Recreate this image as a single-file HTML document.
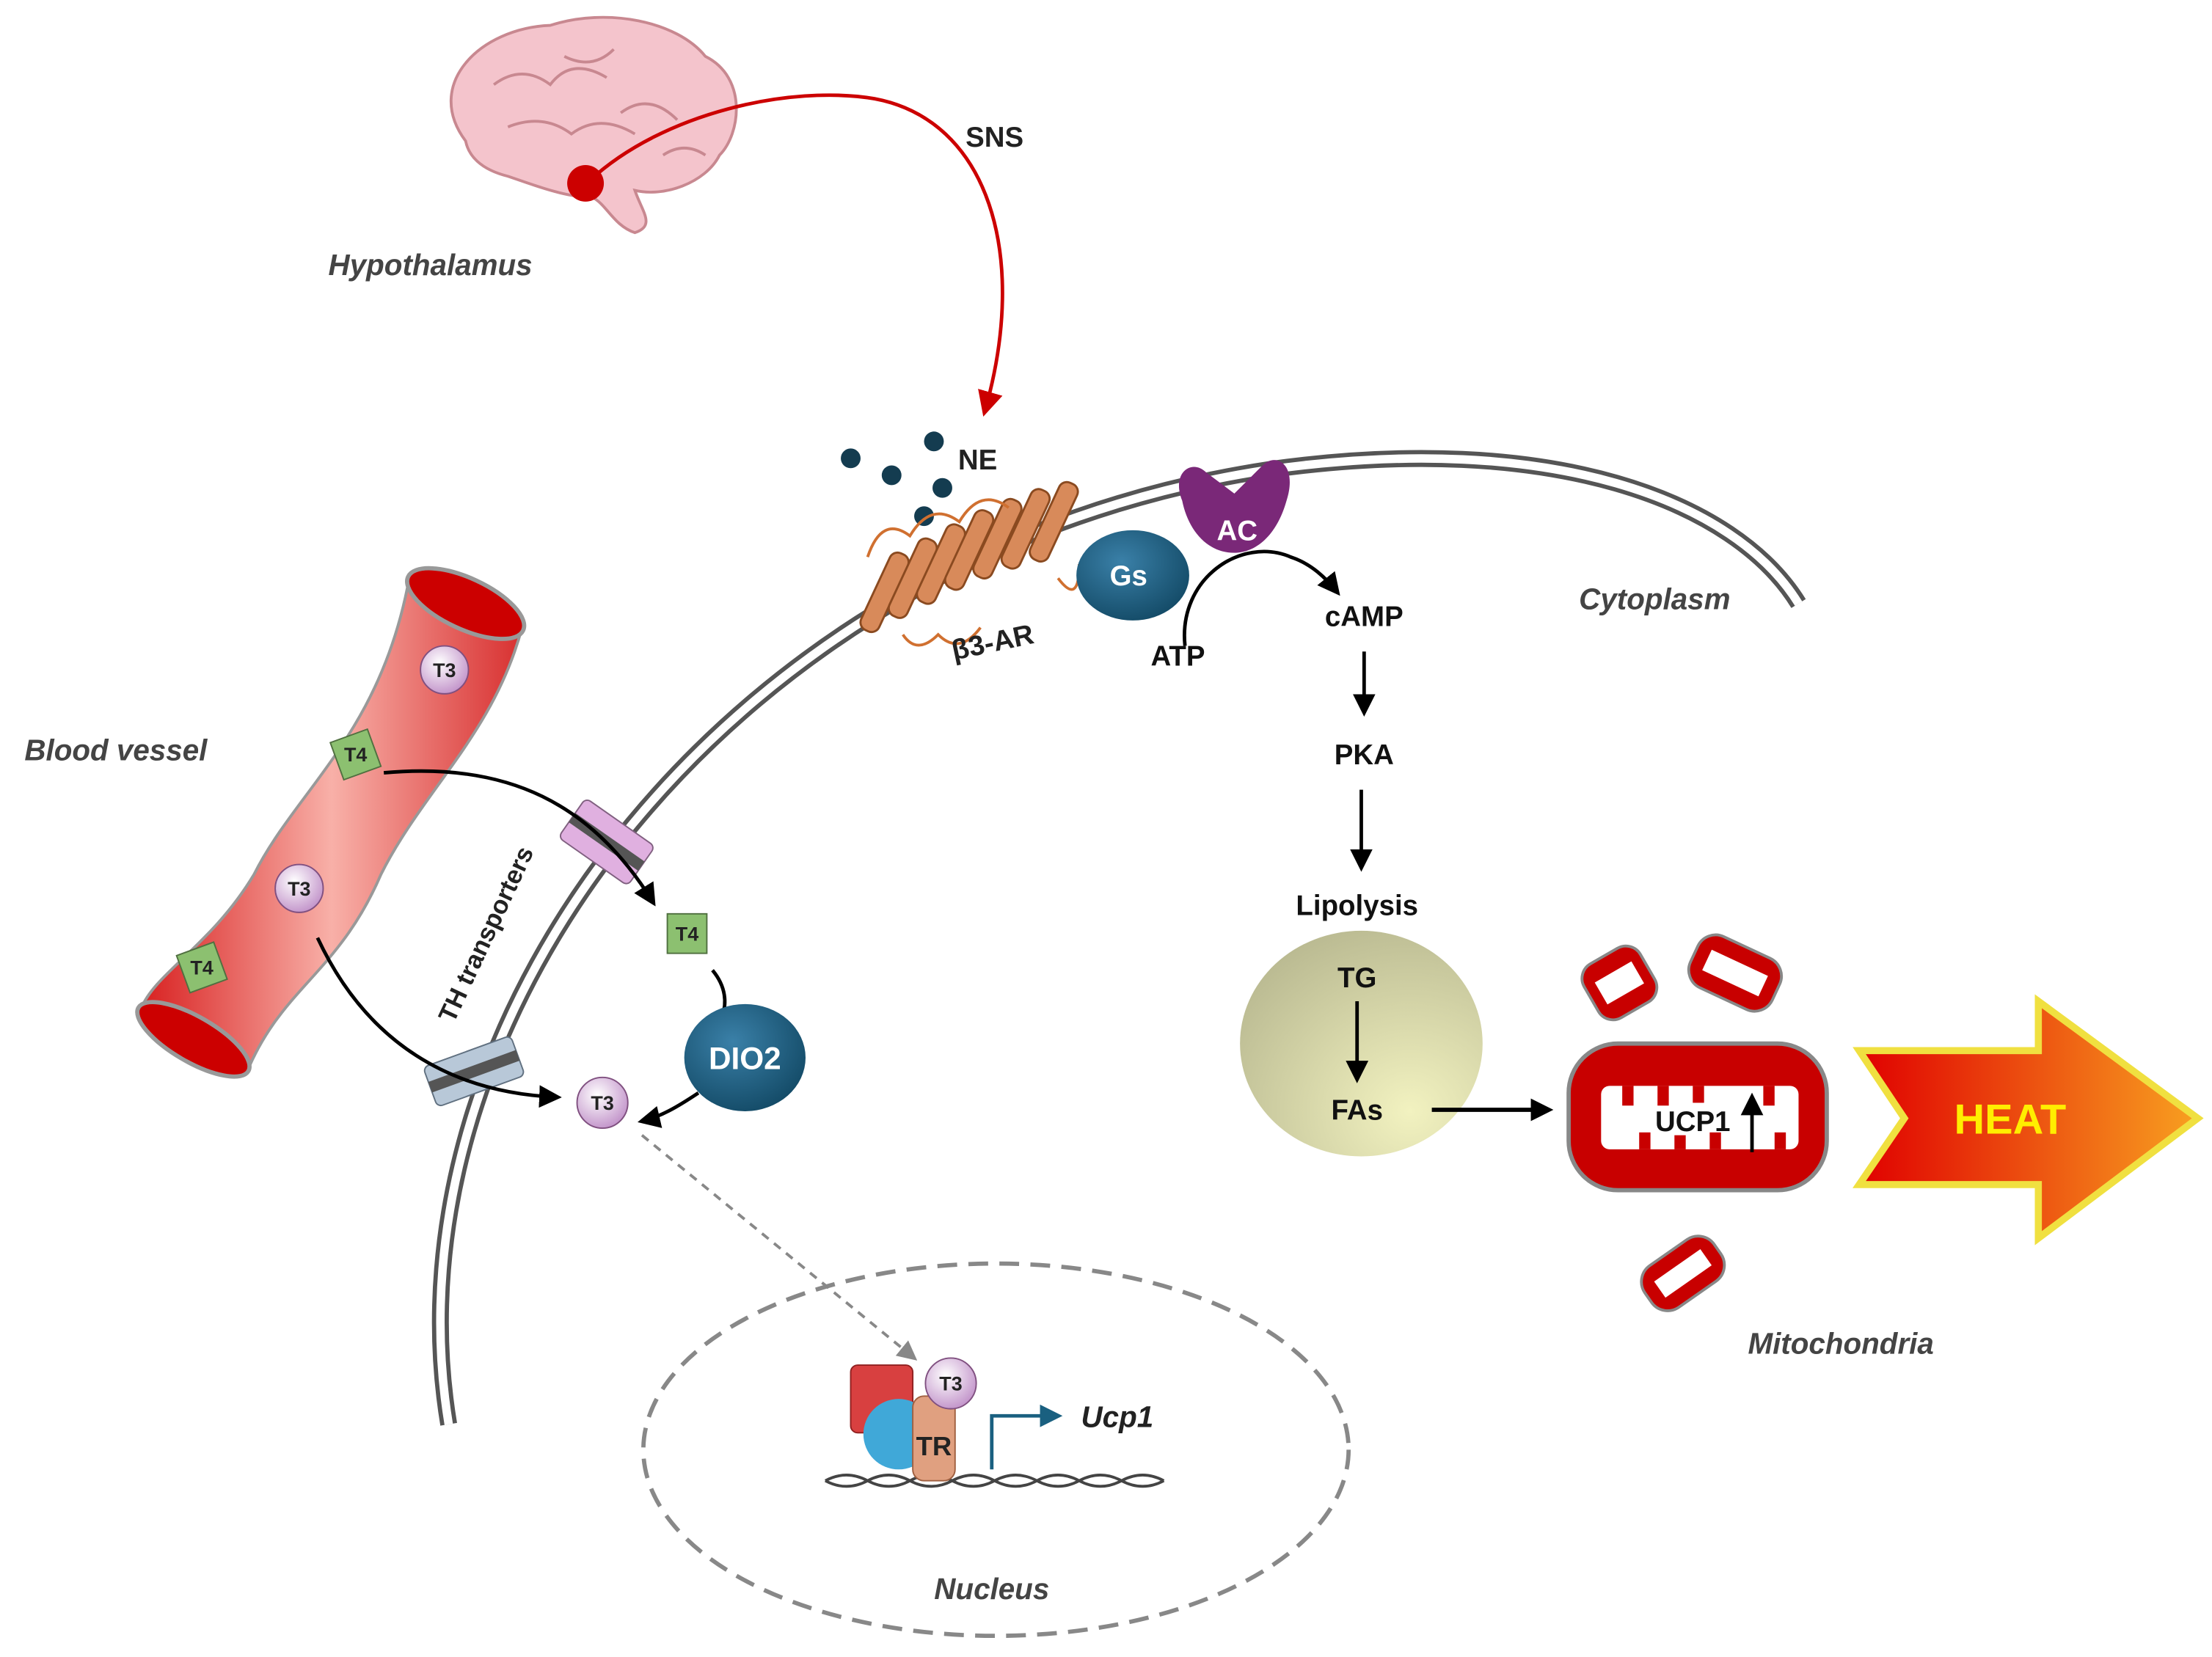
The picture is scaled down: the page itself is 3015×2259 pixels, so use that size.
<!DOCTYPE html>
<html><head><meta charset="utf-8"><style>
html,body{margin:0;padding:0;background:#fff;}
svg{display:block;}
text{font-family:"Liberation Sans",sans-serif;font-weight:bold;}
.it{font-style:italic;fill:#444;}
</style></head><body>
<svg width="3015" height="2259" viewBox="0 0 1568 1175" xmlns="http://www.w3.org/2000/svg">
<defs>
<marker id="abk" viewBox="0 0 10 10" refX="8" refY="5" markerWidth="16" markerHeight="16" orient="auto" markerUnits="userSpaceOnUse"><path d="M0,0 L10,5 L0,10 z" fill="#000"/></marker>
<marker id="ar" viewBox="0 0 10 10" refX="8" refY="5" markerWidth="18" markerHeight="18" orient="auto" markerUnits="userSpaceOnUse"><path d="M0,0 L10,5 L0,10 z" fill="#c00"/></marker>
<marker id="ag" viewBox="0 0 10 10" refX="8" refY="5" markerWidth="14" markerHeight="14" orient="auto" markerUnits="userSpaceOnUse"><path d="M0,0 L10,5 L0,10 z" fill="#888"/></marker>
<marker id="at" viewBox="0 0 10 10" refX="8" refY="5" markerWidth="16" markerHeight="16" orient="auto" markerUnits="userSpaceOnUse"><path d="M0,0 L10,5 L0,10 z" fill="#1a6080"/></marker>
<radialGradient id="tg" cx="0.7" cy="0.8" r="0.9"><stop offset="0" stop-color="#f2f2c0"/><stop offset="1" stop-color="#b8b890"/></radialGradient>
<linearGradient id="vs" x1="0" y1="0" x2="1" y2="0"><stop offset="0" stop-color="#d82020"/><stop offset="0.5" stop-color="#f8b0a8"/><stop offset="1" stop-color="#d83030"/></linearGradient>
<linearGradient id="ht" x1="0" y1="0" x2="1" y2="0"><stop offset="0" stop-color="#e00000"/><stop offset="1" stop-color="#f8a020"/></linearGradient>
<radialGradient id="bl" cx="0.4" cy="0.35" r="0.7"><stop offset="0" stop-color="#3a80a8"/><stop offset="1" stop-color="#134a66"/></radialGradient>
<radialGradient id="t3" cx="0.4" cy="0.35" r="0.7"><stop offset="0" stop-color="#fff"/><stop offset="1" stop-color="#c090c8"/></radialGradient>
</defs>

<!-- brain -->
<path d="M330,100 C300,60 340,20 390,18 C430,5 480,15 500,40 C530,55 525,95 510,110 C500,130 470,140 450,135 C455,150 465,160 450,165 C435,160 430,145 420,140 C400,140 375,130 360,125 C340,120 332,110 330,100 z" fill="#f4c4cc" stroke="#c88890" stroke-width="2"/>
<path d="M350,60 q20,-15 40,0 q15,-20 40,-5 M360,90 q25,-10 45,5 q20,-15 45,0 M400,40 q20,10 35,-5 M440,80 q20,-15 40,5 M470,110 q15,-10 30,0" fill="none" stroke="#c88890" stroke-width="2"/>
<circle cx="415" cy="130" r="13" fill="#c00"/>
<path d="M418,128 C470,80 560,60 620,70 C700,85 730,180 698,292" fill="none" stroke="#c00" stroke-width="2.5" marker-end="url(#ar)"/>
<text x="705" y="104" font-size="20" text-anchor="middle" fill="#222">SNS</text>
<text x="305" y="195" font-size="21" text-anchor="middle" class="it">Hypothalamus</text>

<!-- membrane -->
<path d="M318,1010 C270,720 520,390 900,333 C1100,305 1230,355 1275,428" fill="none" stroke="#555" stroke-width="12"/>
<path d="M318,1010 C270,720 520,390 900,333 C1100,305 1230,355 1275,428" fill="none" stroke="#fff" stroke-width="6"/>
<text x="1173" y="432" font-size="21" text-anchor="middle" class="it">Cytoplasm</text>

<!-- NE -->
<g fill="#143c50"><circle cx="603" cy="325" r="7"/><circle cx="632" cy="337" r="7"/><circle cx="662" cy="313" r="7"/><circle cx="668" cy="346" r="7"/><circle cx="655" cy="366" r="7"/></g>
<text x="693" y="333" font-size="20" text-anchor="middle" fill="#222">NE</text>

<!-- receptor -->
<g fill="#d88a5a" stroke="#8a4a20" stroke-width="1.5">
<rect x="620" y="390" width="14" height="60" rx="6" transform="rotate(25 627 420)"/>
<rect x="640" y="380" width="14" height="60" rx="6" transform="rotate(25 647 410)"/>
<rect x="660" y="370" width="14" height="60" rx="6" transform="rotate(25 667 400)"/>
<rect x="680" y="360" width="14" height="60" rx="6" transform="rotate(25 687 390)"/>
<rect x="700" y="352" width="14" height="60" rx="6" transform="rotate(25 707 382)"/>
<rect x="720" y="345" width="14" height="60" rx="6" transform="rotate(25 727 375)"/>
<rect x="740" y="340" width="14" height="60" rx="6" transform="rotate(25 747 370)"/>
</g>
<path d="M615,395 q10,-30 30,-15 q15,-25 35,-10 q15,-25 35,-10 M640,450 q10,15 25,0 q15,15 30,-5 M750,410 q15,20 15,-10" fill="none" stroke="#d07030" stroke-width="2"/>
<text x="705" y="462" font-size="20" text-anchor="middle" fill="#222" transform="rotate(-12 705 462)">β3-AR</text>

<!-- Gs, AC -->
<ellipse cx="803" cy="408" rx="40" ry="32" fill="url(#bl)"/>
<text x="800" y="415" font-size="20" text-anchor="middle" fill="#fff">Gs</text>
<path d="M838,355 C830,335 845,325 855,335 L875,350 L895,330 C905,320 920,330 912,355 C905,380 890,392 875,392 C855,392 842,375 838,355 z" fill="#7a2878"/>
<text x="877" y="383" font-size="20" text-anchor="middle" fill="#fff">AC</text>
<path d="M840,458 C835,410 880,380 915,395 C930,400 940,410 948,420" fill="none" stroke="#000" stroke-width="2.5" marker-end="url(#abk)"/>
<text x="835" y="472" font-size="20" text-anchor="middle" fill="#111">ATP</text>
<text x="967" y="444" font-size="20" text-anchor="middle" fill="#111">cAMP</text>
<line x1="967" y1="462" x2="967" y2="505" stroke="#000" stroke-width="2.5" marker-end="url(#abk)"/>
<text x="967" y="542" font-size="20" text-anchor="middle" fill="#111">PKA</text>
<line x1="965" y1="560" x2="965" y2="615" stroke="#000" stroke-width="2.5" marker-end="url(#abk)"/>
<text x="962" y="649" font-size="20" text-anchor="middle" fill="#111">Lipolysis</text>

<!-- TG -->
<ellipse cx="965" cy="740" rx="86" ry="80" fill="url(#tg)"/>
<text x="962" y="700" font-size="20" text-anchor="middle" fill="#111">TG</text>
<line x1="962" y1="710" x2="962" y2="765" stroke="#000" stroke-width="2.5" marker-end="url(#abk)"/>
<text x="962" y="794" font-size="20" text-anchor="middle" fill="#111">FAs</text>
<line x1="1015" y1="787" x2="1098" y2="787" stroke="#000" stroke-width="3" marker-end="url(#abk)"/>

<!-- mitochondria -->
<rect x="1112" y="740" width="183" height="104" rx="35" fill="#c80000" stroke="#888" stroke-width="3"/>
<rect x="1135" y="770" width="140" height="45" rx="6" fill="#fff"/>
<g fill="#c80000">
<rect x="1150" y="770" width="8" height="14"/><rect x="1175" y="770" width="8" height="14"/><rect x="1200" y="770" width="8" height="12"/><rect x="1250" y="770" width="8" height="14"/>
<rect x="1162" y="803" width="8" height="12"/><rect x="1187" y="805" width="8" height="10"/><rect x="1212" y="803" width="8" height="12"/><rect x="1258" y="803" width="8" height="12"/>
</g>
<text x="1200" y="802" font-size="20" text-anchor="middle" fill="#111">UCP1</text>
<line x1="1242" y1="817" x2="1242" y2="778" stroke="#000" stroke-width="2.5" marker-end="url(#abk)"/>
<g transform="rotate(-30 1148 697)"><rect x="1125" y="675" width="46" height="44" rx="12" fill="#c80000" stroke="#888" stroke-width="2"/><rect x="1133" y="688" width="30" height="18" fill="#fff"/></g>
<g transform="rotate(25 1230 690)"><rect x="1198" y="670" width="64" height="40" rx="14" fill="#c80000" stroke="#888" stroke-width="2"/><rect x="1208" y="682" width="44" height="16" fill="#fff"/></g>
<g transform="rotate(-35 1193 903)"><rect x="1163" y="885" width="60" height="36" rx="14" fill="#c80000" stroke="#888" stroke-width="2"/><rect x="1173" y="896" width="40" height="14" fill="#fff"/></g>
<text x="1305" y="960" font-size="21" text-anchor="middle" class="it">Mitochondria</text>

<!-- HEAT -->
<path d="M1318,745 L1445,745 L1445,710 L1558,793 L1445,878 L1445,840 L1318,840 L1350,793 z" fill="url(#ht)" stroke="#f0e040" stroke-width="5"/>
<text x="1425" y="804" font-size="30" text-anchor="middle" fill="#ffee00">HEAT</text>

<!-- blood vessel -->
<path d="M290,410 C270,520 210,560 180,620 C150,670 110,690 100,715 L175,760 C200,700 240,690 270,620 C300,560 350,520 370,445 z" fill="url(#vs)" stroke="#999" stroke-width="2"/>
<ellipse cx="330" cy="428" rx="45" ry="18" transform="rotate(25 330 428)" fill="#c00" stroke="#999" stroke-width="3"/>
<ellipse cx="137" cy="737" rx="45" ry="16" transform="rotate(30 137 737)" fill="#c00" stroke="#999" stroke-width="3"/>
<text x="82" y="539" font-size="21" text-anchor="middle" class="it">Blood vessel</text>
<g font-size="14" text-anchor="middle" fill="#222">
<circle cx="315" cy="475" r="17" fill="url(#t3)" stroke="#805080"/><text x="315" y="480">T3</text>
<circle cx="212" cy="630" r="17" fill="url(#t3)" stroke="#805080"/><text x="212" y="635">T3</text>
<rect x="238" y="521" width="28" height="28" fill="#8cc070" stroke="#507040" transform="rotate(-20 252 535)"/><text x="252" y="540">T4</text>
<rect x="129" y="672" width="28" height="28" fill="#8cc070" stroke="#507040" transform="rotate(-20 143 686)"/><text x="143" y="691">T4</text>
<rect x="473" y="648" width="28" height="28" fill="#8cc070" stroke="#507040"/><text x="487" y="667">T4</text>
<circle cx="427" cy="782" r="18" fill="url(#t3)" stroke="#805080"/><text x="427" y="787">T3</text>
</g>

<!-- transporters -->
<g transform="rotate(35 430 597)"><rect x="400" y="580" width="60" height="34" rx="4" fill="#e0b0e0" stroke="#806080"/><rect x="400" y="593" width="60" height="8" fill="#555"/></g>
<g transform="rotate(-20 335 760)"><rect x="303" y="745" width="66" height="30" rx="4" fill="#b8c8d8" stroke="#607080"/><rect x="303" y="756" width="66" height="8" fill="#555"/></g>
<text x="350" y="665" font-size="18" text-anchor="middle" fill="#222" transform="rotate(-65 350 665)">TH transporters</text>

<path d="M272,548 C360,540 420,570 463,640" fill="none" stroke="#000" stroke-width="2.5" marker-end="url(#abk)"/>
<path d="M225,665 C260,740 320,775 395,778" fill="none" stroke="#000" stroke-width="2.5" marker-end="url(#abk)"/>
<path d="M505,688 C515,700 515,712 512,720" fill="none" stroke="#000" stroke-width="2.5"/>
<ellipse cx="528" cy="750" rx="43" ry="38" fill="url(#bl)"/>
<text x="528" y="758" font-size="22" text-anchor="middle" fill="#fff">DIO2</text>
<path d="M495,775 C480,785 468,792 455,795" fill="none" stroke="#000" stroke-width="2.5" marker-end="url(#abk)"/>
<line x1="455" y1="805" x2="648" y2="963" stroke="#888" stroke-width="2" stroke-dasharray="6,5" marker-end="url(#ag)"/>

<!-- nucleus -->
<ellipse cx="706" cy="1028" rx="250" ry="132" fill="none" stroke="#888" stroke-width="3" stroke-dasharray="14,8"/>
<text x="703" y="1134" font-size="21" text-anchor="middle" class="it">Nucleus</text>
<path d="M585,1050 q15,-8 30,0 t30,0 t30,0 t30,0 t30,0 t30,0 t30,0 t30,0 M585,1050 q15,8 30,0 t30,0 t30,0 t30,0 t30,0 t30,0 t30,0 t30,0" fill="none" stroke="#444" stroke-width="2"/>
<rect x="603" y="968" width="44" height="48" rx="5" fill="#d84040" stroke="#902020"/>
<circle cx="637" cy="1017" r="25" fill="#40a8d8"/>
<rect x="647" y="990" width="30" height="60" rx="8" fill="#e0a080" stroke="#a06040"/>
<text x="662" y="1032" font-size="19" text-anchor="middle" fill="#222">TR</text>
<circle cx="674" cy="981" r="18" fill="url(#t3)" stroke="#805080"/>
<text x="674" y="986" font-size="14" text-anchor="middle" fill="#222">T3</text>
<path d="M703,1042 L703,1004 L750,1004" fill="none" stroke="#1a6080" stroke-width="2.5" marker-end="url(#at)"/>
<text x="792" y="1012" font-size="21" text-anchor="middle" class="it" style="fill:#222">Ucp1</text>
</svg>
</body></html>
